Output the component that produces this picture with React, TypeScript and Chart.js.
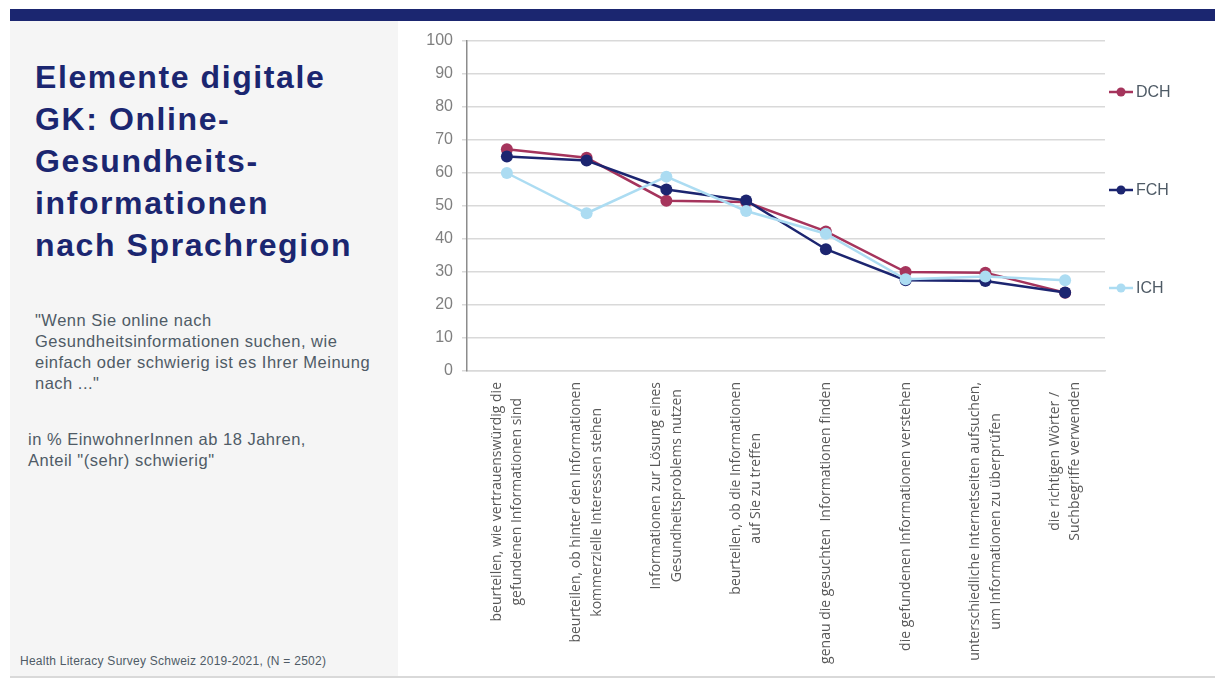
import React, { useEffect, useRef } from "react";
import { Chart, registerables } from "chart.js";

Chart.register(...registerables);

const categories: string[][] = [
  ["beurteilen, wie vertrauenswürdig die", "gefundenen Informationen sind"],
  ["beurteilen, ob hinter den Informationen", "kommerzielle Interessen stehen"],
  ["Informationen zur Lösung eines", "Gesundheitsproblems nutzen"],
  ["beurteilen, ob die Informationen", "auf Sie zu treffen"],
  ["genau die gesuchten  Informationen finden"],
  ["die gefundenen Informationen verstehen"],
  ["unterschiedliche Internetseiten aufsuchen,", "um Informationen zu überprüfen"],
  ["die richtigen Wörter /", "Suchbegriffe verwenden"],
];

const seriesNames = ["DCH", "FCH", "ICH"];
const dchValues = [67.2, 64.6, 51.6, 51.2, 42.3, 30.0, 29.8, 23.7];
const fchValues = [65.0, 63.8, 55.0, 51.7, 36.9, 27.5, 27.3, 23.8];
const ichValues = [60.0, 47.8, 58.9, 48.5, 41.6, 27.8, 28.6, 27.5];
const seriesColors = ["#a5345c", "#1c2570", "#acdcf2"];

const yMin = 0;
const yMax = 100;
const yStep = 10;

const xLabelPlugin = {
  id: "xLabelPlugin",
  afterDraw(chart: any) {
    const ctx = chart.ctx;
    const xScale = chart.scales.x;
    const top = chart.chartArea.bottom + 11;
    const lh = 20.5;
    ctx.save();
    ctx.font = "14px 'Open Sans', sans-serif";
    ctx.fillStyle = "#595959";
    ctx.textAlign = "center";
    ctx.textBaseline = "middle";
    categories.forEach((lines, i) => {
      const x = xScale.getPixelForValue(i);
      const w = Math.max(...lines.map((l) => ctx.measureText(l).width));
      ctx.save();
      ctx.translate(x, top);
      ctx.rotate(-Math.PI / 2);
      lines.forEach((line, j) => {
        const off = (j - (lines.length - 1) / 2) * lh;
        ctx.fillText(line, -w / 2, off);
      });
      ctx.restore();
    });
    ctx.restore();
  },
};

const legendPlugin = {
  id: "customLegend",
  afterDraw(chart: any) {
    const ctx = chart.ctx;
    const area = chart.chartArea;
    const ys = [71, 169, 267];
    const x0 = area.right + 4;
    ctx.save();
    chart.data.datasets.forEach((ds: any, i: number) => {
      const y = ys[i];
      ctx.strokeStyle = ds.borderColor;
      ctx.lineWidth = 2.5;
      ctx.beginPath();
      ctx.moveTo(x0, y);
      ctx.lineTo(x0 + 24, y);
      ctx.stroke();
      ctx.fillStyle = ds.borderColor;
      ctx.beginPath();
      ctx.arc(x0 + 12, y, 4.5, 0, Math.PI * 2);
      ctx.fill();
      ctx.fillStyle = "#4f5b66";
      ctx.font = "16px 'Liberation Sans', Arial, sans-serif";
      ctx.textAlign = "left";
      ctx.textBaseline = "middle";
      ctx.fillText(ds.label, x0 + 27, y + 1);
    });
    ctx.restore();
  },
};

function LineChart() {
  const ref = useRef<HTMLCanvasElement | null>(null);
  useEffect(() => {
    if (!ref.current) return;
    const values = [dchValues, fchValues, ichValues];
    const chart = new Chart(ref.current, {
      type: "line",
      data: {
        labels: categories.map((c) => c.join(" ")),
        datasets: seriesNames.map((name, i) => ({
          label: name,
          data: values[i],
          borderColor: seriesColors[i],
          backgroundColor: seriesColors[i],
          pointBackgroundColor: seriesColors[i],
          pointBorderColor: seriesColors[i],
          borderWidth: 2.5,
          pointRadius: 6,
          pointBorderWidth: 0,
          tension: 0,
          order: 2 - i,
        })),
      },
      options: {
        animation: false,
        responsive: true,
        maintainAspectRatio: false,
        layout: { padding: { left: 0, right: 110, top: 20, bottom: 0 } },
        plugins: { legend: { display: false }, tooltip: { enabled: false } },
        scales: {
          x: {
            offset: true,
            grid: { display: false },
            border: { display: true, color: "#d9d9d9", width: 1.5 },
            ticks: { display: false },
            afterFit: (scale: any) => {
              scale.height = 305;
            },
          },
          y: {
            min: yMin,
            max: yMax,
            ticks: {
              stepSize: yStep,
              color: "#7f7f7f",
              padding: 9,
              font: { family: "'Liberation Sans', Arial, sans-serif", size: 16 },
            },
            grid: { color: "#d9d9d9", lineWidth: 1.5, tickLength: 5 },
            border: { display: true, color: "#8c8c8c", width: 1.5 },
            afterFit: (scale: any) => {
              scale.width = 67;
            },
          },
        },
      },
      plugins: [xLabelPlugin, legendPlugin],
    } as any);
    return () => chart.destroy();
  }, []);
  return <canvas ref={ref} />;
}

export default function App() {
  const textFont = "'Liberation Sans', Arial, sans-serif";
  return (
    <div
      style={{
        position: "fixed",
        left: 0,
        top: 0,
        width: 1215,
        height: 678,
        background: "#ffffff",
        overflow: "hidden",
        fontFamily: textFont,
      }}
    >
      <div style={{ position: "absolute", left: 10, top: 9, width: 1205, height: 12, background: "#1b2670" }} />
      <div style={{ position: "absolute", left: 10, top: 21, width: 388, height: 655, background: "#f5f5f5" }} />
      <div style={{ position: "absolute", left: 10, top: 676, width: 1205, height: 2, background: "#d9d9d9" }} />
      <div
        style={{
          position: "absolute",
          left: 35,
          top: 56,
          width: 362,
          fontSize: 32,
          letterSpacing: "1.6px",
          lineHeight: "42px",
          fontWeight: "bold",
          color: "#1b2670",
          whiteSpace: "nowrap",
        }}
      >
        Elemente digitale
        <br />
        GK: Online-
        <br />
        Gesundheits-
        <br />
        informationen
        <br />
        nach Sprachregion
      </div>
      <div
        style={{
          position: "absolute",
          left: 35,
          top: 310,
          width: 360,
          fontSize: 16.5,
          letterSpacing: "0.5px",
          lineHeight: "21px",
          color: "#4f5b66",
          whiteSpace: "nowrap",
        }}
      >
        "Wenn Sie online nach
        <br />
        Gesundheitsinformationen suchen, wie
        <br />
        einfach oder schwierig ist es Ihrer Meinung
        <br />
        nach ..."
      </div>
      <div
        style={{
          position: "absolute",
          left: 28,
          top: 429,
          width: 360,
          fontSize: 16.5,
          letterSpacing: "0.5px",
          lineHeight: "21px",
          color: "#4f5b66",
          whiteSpace: "nowrap",
        }}
      >
        in % EinwohnerInnen ab 18 Jahren,
        <br />
        Anteil "(sehr) schwierig"
      </div>
      <div
        style={{
          position: "absolute",
          left: 20,
          top: 654,
          fontSize: 12,
          letterSpacing: "0.25px",
          lineHeight: "14px",
          color: "#4f5b66",
          whiteSpace: "nowrap",
        }}
      >
        Health Literacy Survey Schweiz 2019-2021, (N = 2502)
      </div>
      <div style={{ position: "absolute", left: 400, top: 21, width: 815, height: 655 }}>
        <LineChart />
      </div>
    </div>
  );
}
